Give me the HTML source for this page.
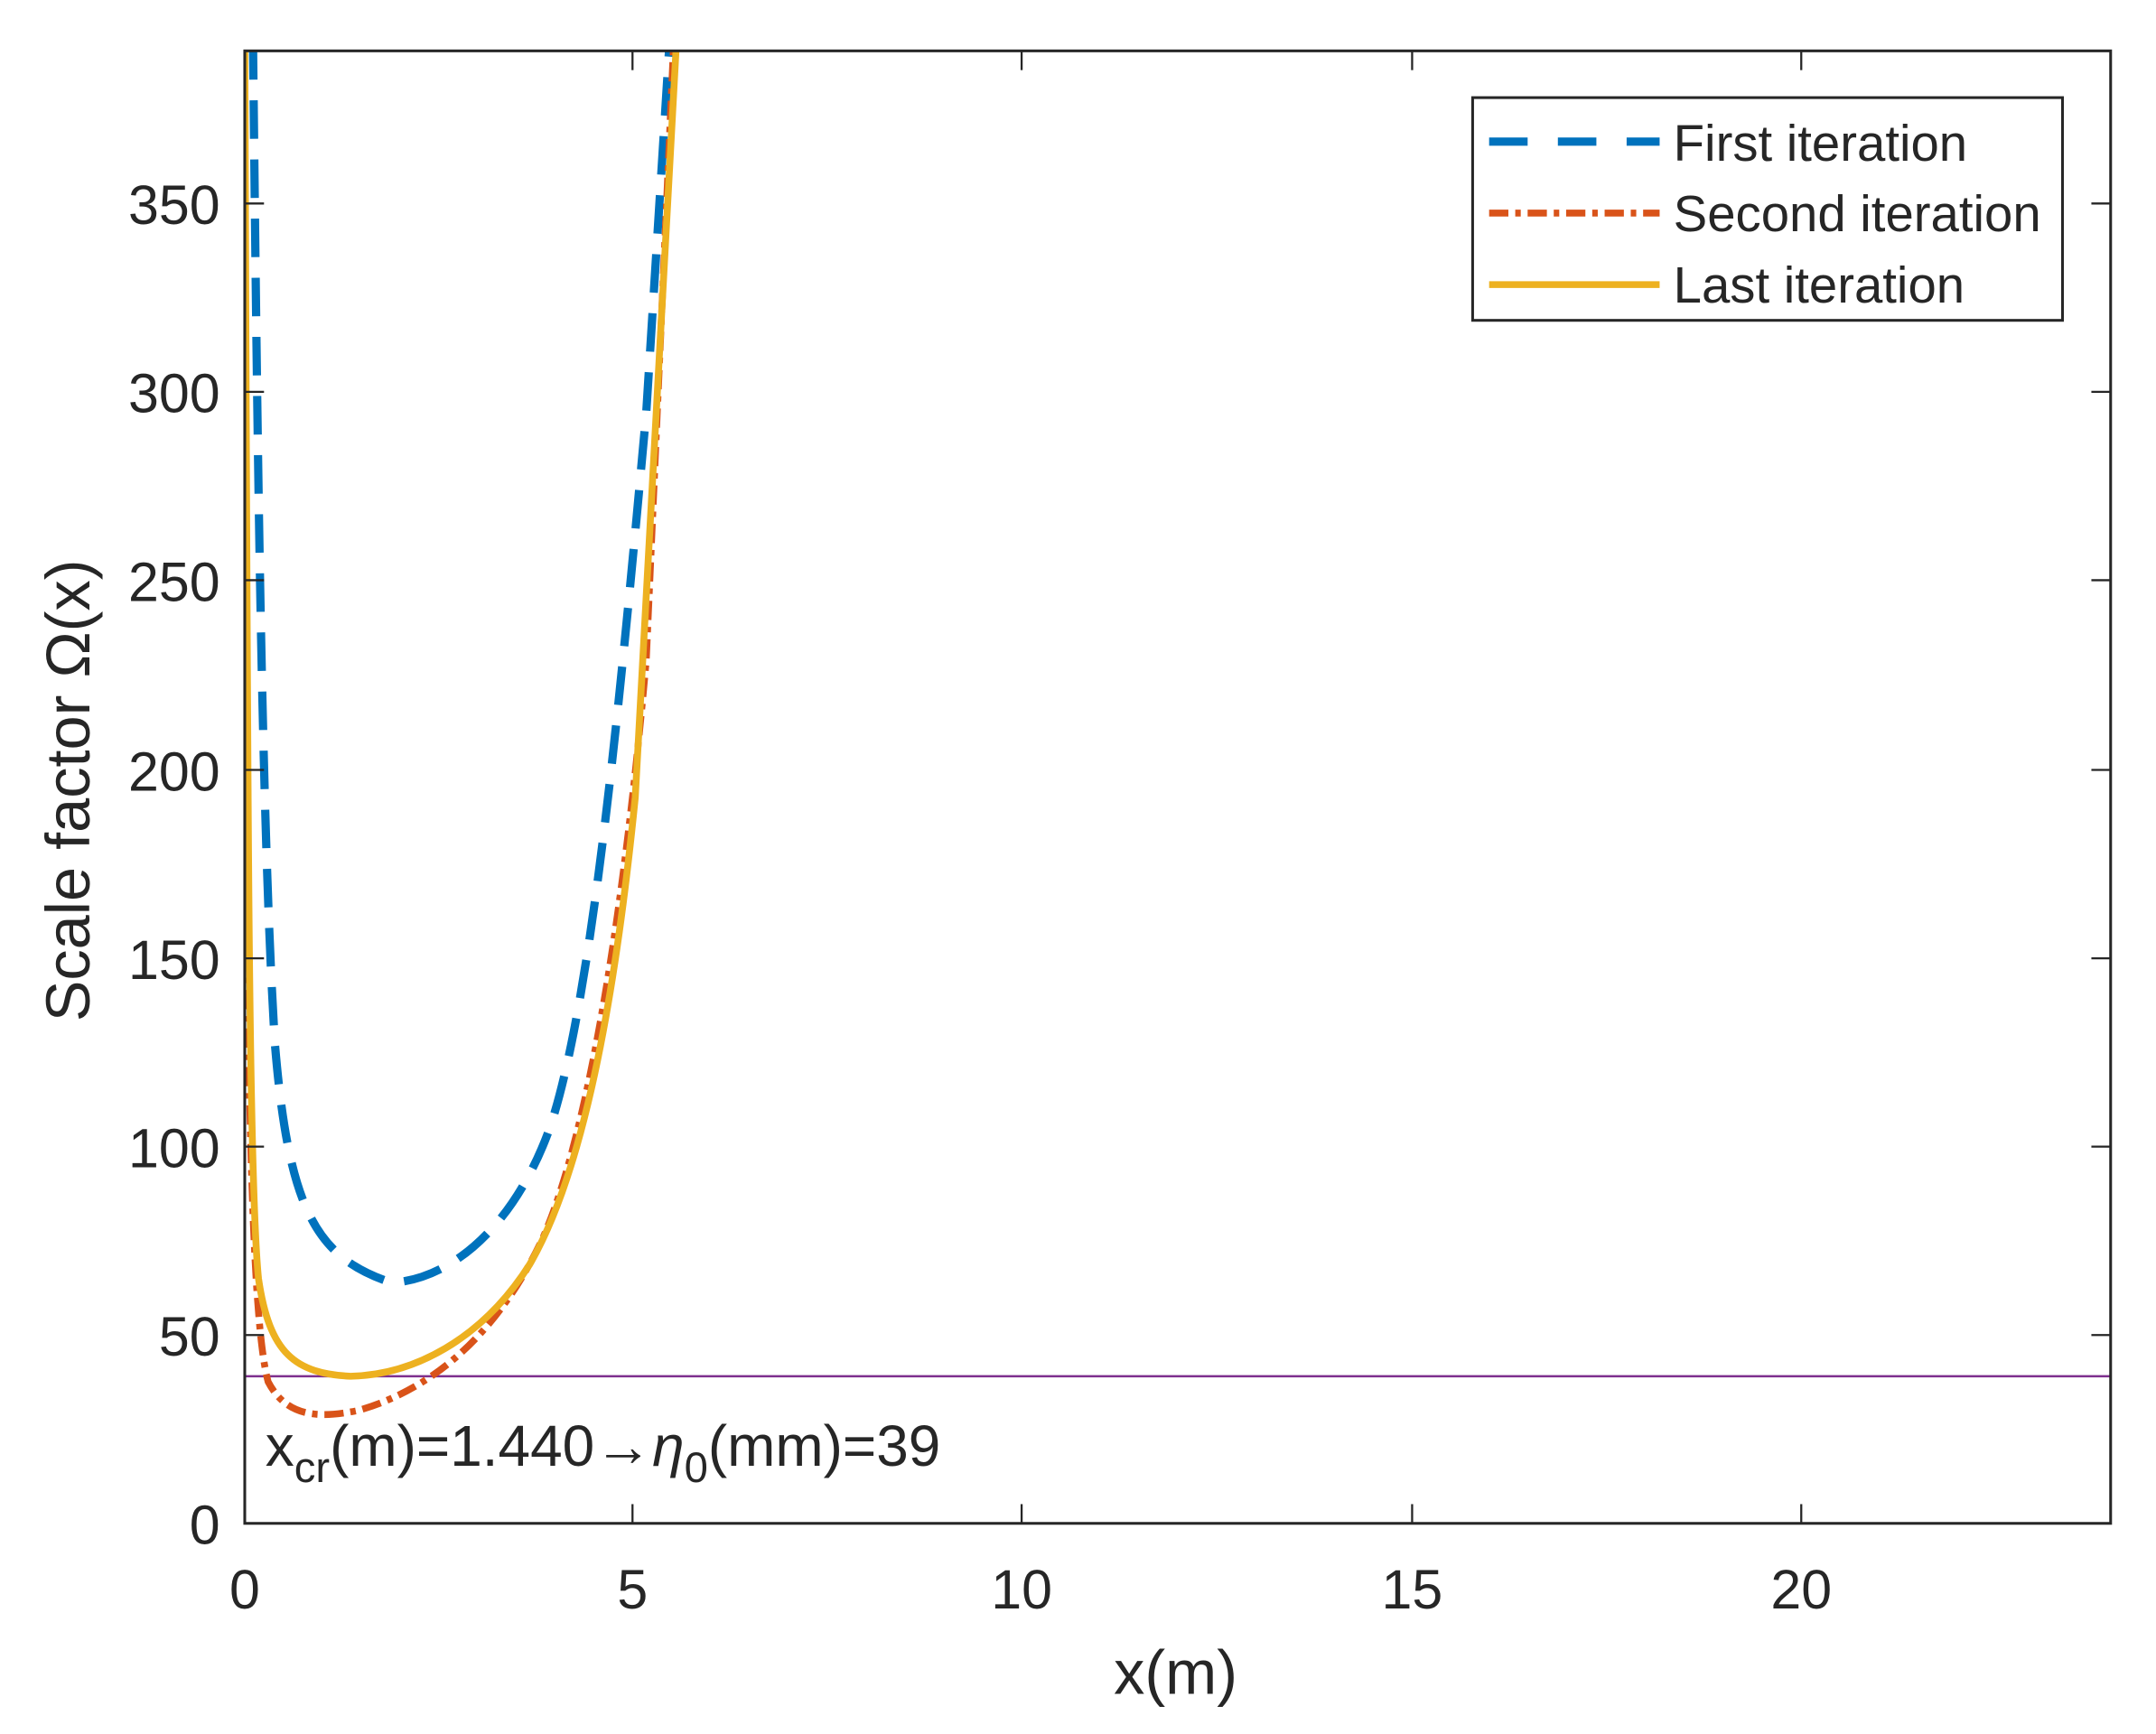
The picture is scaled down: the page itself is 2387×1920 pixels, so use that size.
<!DOCTYPE html>
<html><head><meta charset="utf-8"><style>
html,body{margin:0;padding:0;background:#fff;}
svg{display:block;}
text{font-family:"Liberation Sans",Arial,sans-serif;fill:#262626;}
</style></head><body>
<svg width="2387" height="1920" viewBox="0 0 1568 1261.2" preserveAspectRatio="none" xmlns="http://www.w3.org/2000/svg">
<rect x="0" y="0" width="1568" height="1261.2" fill="#fff"/>
<defs><clipPath id="c"><rect x="178" y="37" width="1357" height="1071"/></clipPath></defs>
<g clip-path="url(#c)" fill="none" stroke-linejoin="round">
<line x1="178" y1="1001" x2="1535" y2="1001" stroke="#7E2F8E" stroke-width="1.6"/>
<path stroke="#0072BD" stroke-width="6" stroke-dasharray="28,15" d="M184,30 C187,300 190,600 200,760 C210,880 230,915 285,933 C330,930 375,890 400,820 C430,730 450,520 470,300 L487,30"/>
<path stroke="#D95319" stroke-width="5" stroke-dasharray="14,5,4,5" d="M178,300 C179,700 180,950 195,1005 C208,1030 230,1032 260,1026 C310,1012 360,975 395,900 C430,820 455,650 470,480 L490,30"/>
<path stroke="#EDB120" stroke-width="5" d="M178,30 C180,500 180,850 188,930 C196,985 215,999 255,1001 C300,1000 350,975 385,920 C420,860 445,750 462,580 L492,30"/>
</g>
<rect x="178" y="37" width="1357" height="1071" fill="none" stroke="#262626" stroke-width="2"/>
<g stroke="#262626" stroke-width="1.5">
<line x1="178" y1="1108" x2="178" y2="1094"/><line x1="460" y1="1108" x2="460" y2="1094"/><line x1="743" y1="1108" x2="743" y2="1094"/><line x1="1027" y1="1108" x2="1027" y2="1094"/><line x1="1310" y1="1108" x2="1310" y2="1094"/>
<line x1="178" y1="37" x2="178" y2="51"/><line x1="460" y1="37" x2="460" y2="51"/><line x1="743" y1="37" x2="743" y2="51"/><line x1="1027" y1="37" x2="1027" y2="51"/><line x1="1310" y1="37" x2="1310" y2="51"/>
<line x1="178" y1="971" x2="192" y2="971"/><line x1="178" y1="834" x2="192" y2="834"/><line x1="178" y1="697" x2="192" y2="697"/><line x1="178" y1="560" x2="192" y2="560"/><line x1="178" y1="422" x2="192" y2="422"/><line x1="178" y1="285" x2="192" y2="285"/><line x1="178" y1="148" x2="192" y2="148"/>
<line x1="1535" y1="971" x2="1521" y2="971"/><line x1="1535" y1="834" x2="1521" y2="834"/><line x1="1535" y1="697" x2="1521" y2="697"/><line x1="1535" y1="560" x2="1521" y2="560"/><line x1="1535" y1="422" x2="1521" y2="422"/><line x1="1535" y1="285" x2="1521" y2="285"/><line x1="1535" y1="148" x2="1521" y2="148"/>
</g>
<g font-size="40" text-anchor="end">
<text x="160" y="1123">0</text><text x="160" y="986">50</text><text x="160" y="849">100</text><text x="160" y="712">150</text><text x="160" y="575">200</text><text x="160" y="437">250</text><text x="160" y="300">300</text><text x="160" y="163">350</text>
</g>
<g font-size="40" text-anchor="middle">
<text x="178" y="1170">0</text><text x="460" y="1170">5</text><text x="743" y="1170">10</text><text x="1027" y="1170">15</text><text x="1310" y="1170">20</text>
<text x="855" y="1232" font-size="45">x(m)</text>
<text transform="translate(65,575) rotate(-90)" font-size="45">Scale factor Ω(x)</text>
</g>
<text x="193" y="1066" font-size="42">x<tspan font-size="31" dy="12">cr</tspan><tspan dy="-12">(m)=1.440→</tspan><tspan font-style="italic">η</tspan><tspan font-size="31" dy="12">0</tspan><tspan dy="-12">(mm)=39</tspan></text>
<rect x="1071" y="71" width="429" height="162" fill="#fff" stroke="#262626" stroke-width="2"/>
<line x1="1083" y1="103" x2="1207" y2="103" stroke="#0072BD" stroke-width="6" stroke-dasharray="28,22"/>
<line x1="1083" y1="155" x2="1207" y2="155" stroke="#D95319" stroke-width="5" stroke-dasharray="14,5,4,5"/>
<line x1="1083" y1="207" x2="1207" y2="207" stroke="#EDB120" stroke-width="5"/>
<g font-size="37" fill="#000">
<text x="1217" y="117">First iteration</text>
<text x="1217" y="168">Second iteration</text>
<text x="1217" y="220">Last iteration</text>
</g>
</svg>
</body></html>
